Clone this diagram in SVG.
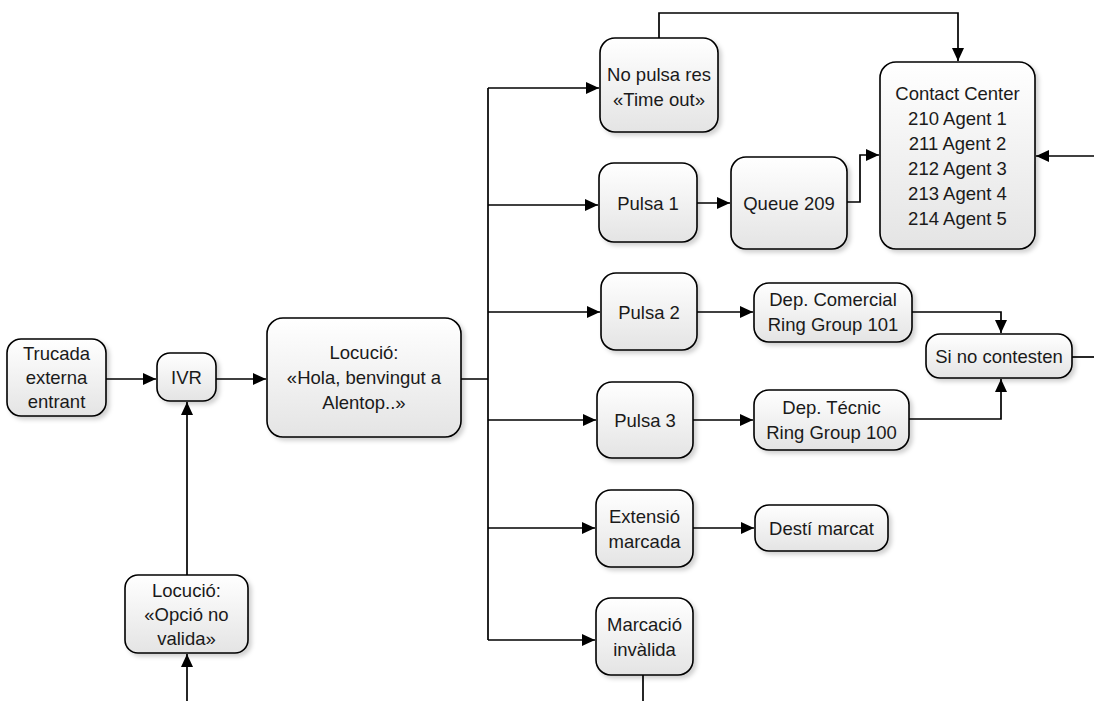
<svg xmlns="http://www.w3.org/2000/svg" width="1094" height="701" viewBox="0 0 1094 701">
  <style>
    .box { fill: url(#boxFill); stroke: #000; stroke-width: 1.6; filter: url(#shadow); }
    .lbl { font-family: "Liberation Sans", Arial, sans-serif; font-size: 18.5px; fill: #1a1a1a; text-anchor: middle; }
    .wire { fill: none; stroke: #000; stroke-width: 1.7; }
    .arr { marker-end: url(#head); }
  </style>
  <defs>
    <linearGradient id="boxFill" x1="0" y1="0" x2="0" y2="1">
      <stop offset="0" stop-color="#ffffff"/>
      <stop offset="1" stop-color="#e4e4e4"/>
    </linearGradient>
    <filter id="shadow" x="-10%" y="-10%" width="130%" height="130%">
      <feDropShadow dx="3" dy="3" stdDeviation="2" flood-color="#000" flood-opacity="0.18"/>
    </filter>
    <marker id="head" markerWidth="14" markerHeight="12" refX="13" refY="6" orient="auto" markerUnits="userSpaceOnUse">
      <path d="M0,0 L13,6 L0,12 Z" fill="#000"/>
    </marker>
  </defs>
  <rect width="1094" height="701" fill="#fff"/>

  <!-- connectors -->
  <g id="connectors">
    <path class="wire arr" d="M106,379 H156"/>
    <path class="wire arr" d="M216,379 H266"/>
    <path class="wire" d="M461,379 H488 M488,88 V640"/>
    <path class="wire arr" d="M488,88 H599"/>
    <path class="wire arr" d="M488,205 H598"/>
    <path class="wire arr" d="M488,312 H600"/>
    <path class="wire arr" d="M488,420 H596"/>
    <path class="wire arr" d="M488,528 H595"/>
    <path class="wire arr" d="M488,640 H595"/>
    <path class="wire arr" d="M659,38 V13 H958 V61"/>
    <path class="wire arr" d="M697,203 H730"/>
    <path class="wire arr" d="M847,202 H860 V155 H879"/>
    <path class="wire arr" d="M1094,156 H1036"/>
    <path class="wire arr" d="M697,312 H753"/>
    <path class="wire arr" d="M912,312 H1001 V333"/>
    <path class="wire arr" d="M693,420 H753"/>
    <path class="wire arr" d="M909,419 H1001 V379"/>
    <path class="wire" d="M1072,357 H1094"/>
    <path class="wire arr" d="M693,528 H754"/>
    <path class="wire" d="M643,675 V701"/>
    <path class="wire arr" d="M187,701 V654"/>
    <path class="wire arr" d="M187,575 V402"/>
  </g>

  <!-- nodes -->
  <g id="trucada">
    <rect class="box" x="7" y="339" width="99" height="77" rx="14"/>
    <text class="lbl" x="56.5" y="360">Trucada</text>
    <text class="lbl" x="56.5" y="384">externa</text>
    <text class="lbl" x="56.5" y="408">entrant</text>
  </g>
  <g id="ivr">
    <rect class="box" x="157" y="353" width="59" height="48" rx="13"/>
    <text class="lbl" x="186.5" y="384">IVR</text>
  </g>
  <g id="locucio">
    <rect class="box" x="267" y="318" width="194" height="119" rx="16"/>
    <text class="lbl" x="364" y="359">Locució:</text>
    <text class="lbl" x="364" y="384">«Hola, benvingut a</text>
    <text class="lbl" x="364" y="409">Alentop..»</text>
  </g>
  <g id="opcio-no-valida">
    <rect class="box" x="125" y="575" width="123" height="78" rx="13"/>
    <text class="lbl" x="186.5" y="597">Locució:</text>
    <text class="lbl" x="186.5" y="621">«Opció no</text>
    <text class="lbl" x="186.5" y="645">valida»</text>
  </g>
  <g id="no-pulsa">
    <rect class="box" x="600" y="38" width="118" height="94" rx="15"/>
    <text class="lbl" x="659" y="81">No pulsa res</text>
    <text class="lbl" x="659" y="106">«Time out»</text>
  </g>
  <g id="pulsa1">
    <rect class="box" x="599" y="163" width="98" height="79" rx="15"/>
    <text class="lbl" x="648" y="210">Pulsa 1</text>
  </g>
  <g id="queue209">
    <rect class="box" x="731" y="157" width="116" height="92" rx="15"/>
    <text class="lbl" x="789" y="210">Queue 209</text>
  </g>
  <g id="contact-center">
    <rect class="box" x="880" y="62" width="155" height="187" rx="16"/>
    <text class="lbl" x="957.5" y="100">Contact Center</text>
    <text class="lbl" x="957.5" y="125">210 Agent 1</text>
    <text class="lbl" x="957.5" y="150">211 Agent 2</text>
    <text class="lbl" x="957.5" y="175">212 Agent 3</text>
    <text class="lbl" x="957.5" y="200">213 Agent 4</text>
    <text class="lbl" x="957.5" y="225">214 Agent 5</text>
  </g>
  <g id="pulsa2">
    <rect class="box" x="601" y="273" width="96" height="77" rx="15"/>
    <text class="lbl" x="649" y="319">Pulsa 2</text>
  </g>
  <g id="dep-comercial">
    <rect class="box" x="754" y="283" width="158" height="59" rx="15"/>
    <text class="lbl" x="833" y="306">Dep. Comercial</text>
    <text class="lbl" x="833" y="331">Ring Group 101</text>
  </g>
  <g id="si-no-contesten">
    <rect class="box" x="926" y="334" width="146" height="44" rx="14"/>
    <text class="lbl" x="999" y="363">Si no contesten</text>
  </g>
  <g id="pulsa3">
    <rect class="box" x="597" y="382" width="96" height="76" rx="15"/>
    <text class="lbl" x="645" y="427">Pulsa 3</text>
  </g>
  <g id="dep-tecnic">
    <rect class="box" x="754" y="390" width="155" height="60" rx="15"/>
    <text class="lbl" x="831.5" y="414">Dep. Técnic</text>
    <text class="lbl" x="831.5" y="439">Ring Group 100</text>
  </g>
  <g id="extensio">
    <rect class="box" x="596" y="490" width="97" height="77" rx="15"/>
    <text class="lbl" x="644.5" y="523">Extensió</text>
    <text class="lbl" x="644.5" y="548">marcada</text>
  </g>
  <g id="desti">
    <rect class="box" x="755" y="505" width="133" height="46" rx="14"/>
    <text class="lbl" x="821.5" y="535">Destí marcat</text>
  </g>
  <g id="marcacio-invalida">
    <rect class="box" x="596" y="598" width="97" height="77" rx="15"/>
    <text class="lbl" x="644.5" y="631">Marcació</text>
    <text class="lbl" x="644.5" y="656">invàlida</text>
  </g>
</svg>
